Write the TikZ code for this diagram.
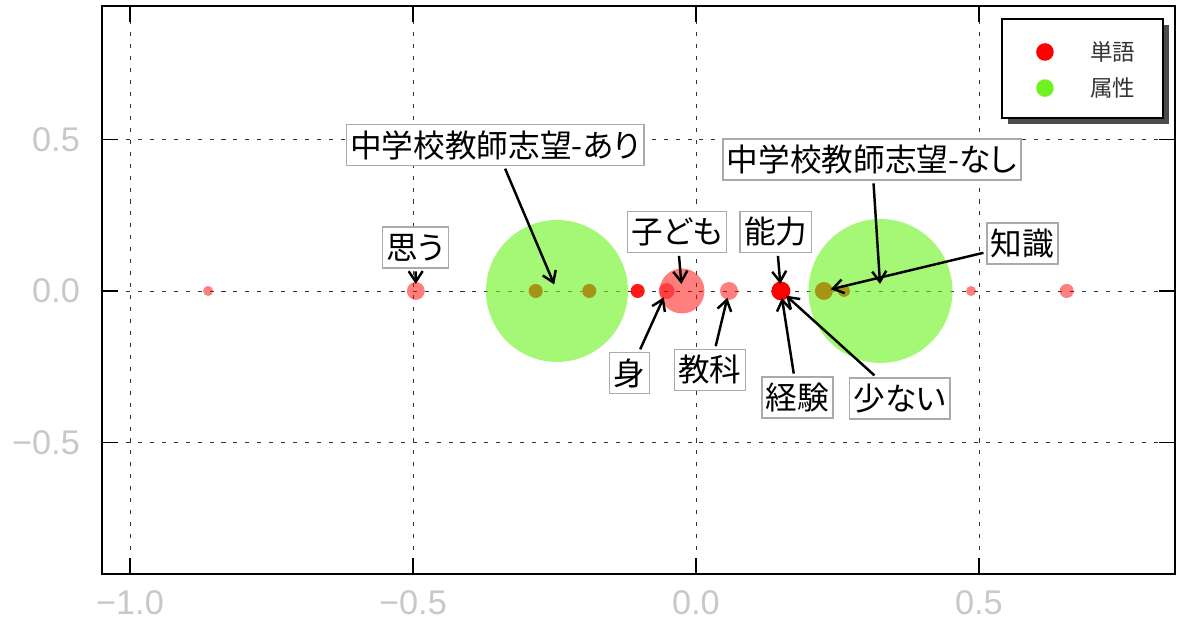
\documentclass[tikz,border=0pt]{standalone}
\usepackage{fontspec}
\setmainfont{Liberation Sans}
\newfontfamily\jpfont[RawFeature=+palt]{Noto Sans CJK JP}
\usetikzlibrary{arrows.meta}
\usetikzlibrary{shadows}
\definecolor{attrgreen}{RGB}{110,242,34}
\definecolor{ticklabel}{RGB}{200,200,200}
\definecolor{tagline}{RGB}{170,170,170}

\begin{document}
\begin{tikzpicture}[x=11.32cm,y=6.066cm,
    word/.style={circle,fill=red,fill opacity=0.5,inner sep=0pt,minimum size=#1},
    attr/.style={circle,fill=attrgreen,fill opacity=0.62,inner sep=0pt,minimum size=#1},
    tag/.style={draw=tagline,line width=0.9pt,fill=white,inner xsep=2.3pt,minimum height=23.3pt,font=\jpfont\fontsize{18}{20}\selectfont},
    pointer/.style={-{Straight Barb[length=6pt,width=8pt]},line width=1.4pt,shorten >=4pt,shorten <=1.5pt},
    gridline/.style={black!80,line width=0.5pt,dash pattern=on 2.3pt off 4.5pt},
    ticklbl/.style={text=ticklabel,font=\fontsize{19.5}{21}\selectfont}]
    \useasboundingbox (-1.2297,-1.0913) rectangle (0.8746,0.9594);
    \foreach \gx in {-1,-0.5,0,0.5}
        \draw[gridline] (\gx,-0.9331) -- (\gx,0.9397);
    \foreach \gy in {-0.5,0,0.5}
        \draw[gridline] (-1.0495,\gy) -- (0.8463,\gy);
    \foreach \gx in {-1,-0.5,0,0.5} {
        \draw[line width=0.8pt] (\gx,-0.9331) -- ++(0,9pt);
        \draw[line width=0.8pt] (\gx,0.9397) -- ++(0,-9pt);
    }
    \foreach \gy in {-0.5,0,0.5} {
        \draw[line width=0.8pt] (-1.0495,\gy) -- ++(9pt,0);
        \draw[line width=0.8pt] (0.8463,\gy) -- ++(-9pt,0);
    }
    \foreach \gx/\lab in {-1/−1.0,-0.5/−0.5,0/0.0,0.5/0.5}
        \node[ticklbl] at (\gx,-1.0287) {\lab};
    \foreach \gy/\lab in {-0.5/−0.5,0/0.0,0.5/0.5}
        \node[ticklbl,anchor=east] at (-1.0777,\gy) {\lab};

    \node[word=5.7pt] (w1) at (-0.862,0) {};
    \node[word=10.2pt] (omou) at (-0.495,0) {};
    \node[word=8pt,fill opacity=1] (wa1) at (-0.2832,0) {};
    \node[word=8pt,fill opacity=1] (wa2) at (-0.1885,0) {};
    \node[word=8pt,fill opacity=0.9] (w3) at (-0.103,0) {};
    \node[word=25.6pt] (kodomo) at (-0.0247,0) {};
    \node[word=9.1pt] (mi) at (-0.0518,0) {};
    \node[word=10.2pt] (kyouka) at (0.0583,0) {};
    \node[word=10.8pt,fill opacity=1] (nouryoku) at (0.150,0) {};
    \node[word=10.2pt,fill opacity=1] (chishiki) at (0.226,0) {};
    \node[word=6.8pt,fill opacity=1] (wb2) at (0.2615,0) {};
    \node[word=5.7pt] (w5) at (0.486,0) {};
    \node[word=8pt] (w6) at (0.655,0) {};
    \node[attr=80.8pt] (ari) at (-0.2456,0) {};
    \node[attr=81.9pt] (nashi) at (0.326,0) {};

    \node[tag] (aritag) at (-0.355,0.4814) {中学校教師志望-あり};
    \node[tag] (omoutag) at (-0.4956,0.1434) {思う};
    \node[tag] (kodomotag) at (-0.0336,0.1945) {子ども};
    \node[tag] (nouryokutag) at (0.1413,0.1945) {能力};
    \node[tag] (mitag) at (-0.1175,-0.2704) {身};
    \node[tag] (kyoukatag) at (0.0247,-0.2605) {教科};
    \node[tag] (keikentag) at (0.1793,-0.3511) {経験};
    \node[tag] (sukunaitag) at (0.3604,-0.3544) {少ない};
    \node[tag] (nashitag) at (0.311,0.4336) {中学校教師志望-なし};
    \node[tag] (chishikitag) at (0.5769,0.1566) {知識};

    \draw[pointer] (aritag) -- (ari.center);
    \draw[pointer] (omoutag) -- (omou.center);
    \draw[pointer] (kodomotag) -- (kodomo.center);
    \draw[pointer] (nouryokutag) -- (nouryoku.center);
    \draw[pointer] (mitag) -- (mi.center);
    \draw[pointer] (kyoukatag) -- (kyouka.center);
    \draw[pointer] (keikentag) -- (nouryoku.center);
    \draw[pointer] (sukunaitag) -- (nouryoku.center);
    \draw[pointer] (nashitag) -- (nashi.center);
    \draw[pointer] (chishikitag) -- (chishiki.center);

    \draw[line width=1.1pt] (-1.0495,-0.9331) rectangle (0.8463,0.9397);

    \node[draw,line width=1.1pt,fill=white,minimum width=3.22cm,minimum height=1.98cm,
        drop shadow={shadow xshift=3.4pt,shadow yshift=-3.4pt,fill=black!70,opacity=1}] (legend) at (0.6829,0.7336) {};
    \node[circle,fill=red,inner sep=0pt,minimum size=10pt] (keyword) at (0.6166,0.788) {};
    \node[circle,fill=attrgreen,inner sep=0pt,minimum size=10pt] (keyattr) at (0.6166,0.669) {};
    \node[font=\jpfont\fontsize{12.8}{14}\selectfont,text=black!80] (keywordlbl) at (0.7367,0.788) {単語};
    \node[font=\jpfont\fontsize{12.8}{14}\selectfont,text=black!80] (keyattrlbl) at (0.7367,0.669) {属性};
\end{tikzpicture}
\end{document}
